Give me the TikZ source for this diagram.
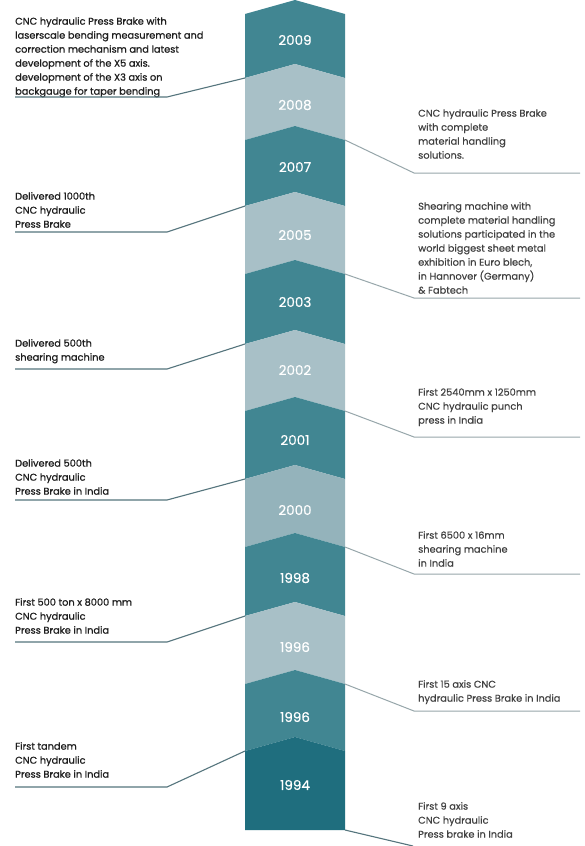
\documentclass[tikz,border=0pt]{standalone}
\usepackage{fontspec}
\setmainfont{Poppins}
\newfontfamily\leftnotefont{Poppins}[FakeBold=0.9]
\newfontfamily\rightnotefont{Poppins}[FakeBold=0.4]
\newfontfamily\yearfont{Poppins}[FakeBold=0.6]

\definecolor{tealdark}{HTML}{418692}
\definecolor{teallight}{HTML}{A8C0C7}
\definecolor{tealmid}{HTML}{94B3BB}
\definecolor{tealdeep}{HTML}{1F6E7E}
\definecolor{notegray}{HTML}{1E1E1E}
\definecolor{linkdark}{HTML}{55757D}
\definecolor{linklight}{HTML}{97A6AA}

\tikzstyle{year}=[text=white, inner sep=0, font=\yearfont\fontsize{13.5}{13.5}\selectfont]
\tikzstyle{note}=[%
	anchor=north west, inner sep=0, align=left, text=notegray,
	font=\leftnotefont\fontsize{9.8}{14}\selectfont
]
\tikzstyle{rnote}=[note, text=notegray!85, font=\rightnotefont\fontsize{9.8}{14}\selectfont]
\tikzstyle{leftlink}=[draw=linkdark, line width=1.1pt]
\tikzstyle{rightlink}=[draw=linklight, line width=1pt]

\begin{document}
\begin{tikzpicture}[x=1pt, y=-1pt]
	\useasboundingbox (0,0) rectangle (584,846);
	\fill[white] (0,0) rectangle (584,846);

	% the column of years
	\foreach \t/\b/\c/\yr/\ly [count=\i] in {%
		0/64/tealdark/2009/40, 64/126/teallight/2008/105,
		126/192/tealdark/2007/167, 192/260/teallight/2005/235,
		260/330/tealdark/2003/302, 330/397/teallight/2002/370,
		397/465/tealdark/2001/440, 465/533/tealmid/2000/510,
		533/602/tealdark/1998/578, 602/670/teallight/1996/647,
		670/737/tealdark/1996/717} {
		\fill[\c] (245,\t+14) -- (295,\t) -- (345,\t+14) -- (345,\b+14)
			-- (295,\b) -- (245,\b+14) -- cycle;
		\node[year] (y\i) at (295,\ly) {\yr};
	};
	\fill[tealdeep] (245,751) -- (295,737) -- (345,751) -- (345,830) -- (245,830) -- cycle;
	\node[year] (y12) at (295,785) {1994};

	% left notes
	\node[note] (n1) at (15,17) {CNC hydraulic Press Brake with\\
		laserscale bending measurement and\\
		correction mechanism and latest\\
		development of the X5 axis.\\
		development of the X3 axis on\\
		backgauge for taper bending};
	\node[note] (n2) at (15,192) {Delivered 1000th\\ CNC hydraulic\\ Press Brake};
	\node[note] (n3) at (15,339) {Delivered 500th\\ shearing machine};
	\node[note] (n4) at (15,459) {Delivered 500th\\ CNC hydraulic\\ Press Brake in India};
	\node[note] (n5) at (15,598) {First 500 ton x 8000 mm\\ CNC hydraulic\\ Press Brake in India};
	\node[note] (n6) at (15,742) {First tandem\\ CNC hydraulic\\ Press Brake in India};

	% right notes
	\node[rnote] (m1) at (418,109) {CNC hydraulic Press Brake\\ with complete\\
		material handling\\ solutions.};
	\node[rnote] (m2) at (418,202) {Shearing machine with\\
		complete material handling\\
		solutions participated in the\\
		world biggest sheet metal\\
		exhibition in Euro blech,\\
		in Hannover (Germany)\\
		\& Fabtech};
	\node[rnote] (m3) at (418,388) {First 2540mm x 1250mm\\ CNC hydraulic punch\\ press in India};
	\node[rnote] (m4) at (418,531) {First 6500 x 16mm\\ shearing machine\\ in India};
	\node[rnote] (m5) at (418,680) {First 15 axis CNC\\ hydraulic Press Brake in India};
	\node[rnote] (m6) at (418,802) {First 9 axis\\ CNC hydraulic\\ Press brake in India};

	% connectors, left side
	\foreach \i/\u/\c in {1/97/78, 2/232/206, 3/369/344, 4/500/479, 5/642/616, 6/787/751} {
		\coordinate (a\i) at (15,\u);
		\coordinate (b\i) at (167,\u);
		\coordinate (c\i) at (245,\c);
		\draw[leftlink] (a\i) -- (b\i) -- (c\i);
	};

	% connectors, right side
	\foreach \i/\s/\u in {1/140/173, 2/274/298, 3/411/437, 4/547/574, 5/684/711} {
		\coordinate (d\i) at (345,\s);
		\coordinate (e\i) at (414,\u);
		\coordinate (f\i) at (580,\u);
		\draw[rightlink] (d\i) -- (e\i) -- (f\i);
	};
	\coordinate (d6) at (345,830);
	\coordinate (e6) at (413,846);
	\draw[leftlink] (d6) -- (e6);
\end{tikzpicture}
\end{document}
